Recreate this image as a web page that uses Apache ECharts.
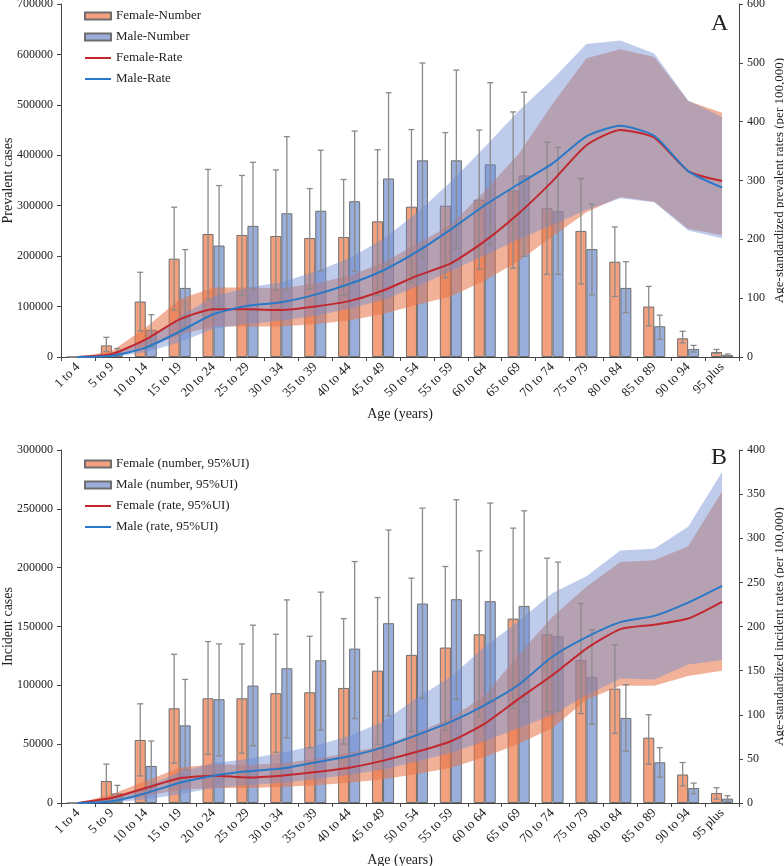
<!DOCTYPE html>
<html>
<head>
<meta charset="utf-8">
<script src="https://cdn.jsdelivr.net/npm/echarts@6/dist/echarts.min.js"></script>
<style>
  html, body { margin: 0; padding: 0; background: #fff; }
  #chart { width: 784px; height: 866px; }
</style>
</head>
<body>
<div id="chart"></div>
<script>
// age groups
var ageGroups = ['1 to 4', '5 to 9', '10 to 14', '15 to 19', '20 to 24', '25 to 29', '30 to 34', '35 to 39',
  '40 to 44', '45 to 49', '50 to 54', '55 to 59', '60 to 64', '65 to 69', '70 to 74', '75 to 79',
  '80 to 84', '85 to 89', '90 to 94', '95 plus'];

// panel A - prevalence
var prevFemaleNum = [0, 23000, 110000, 195000, 244000, 242000, 240000, 236000, 238000, 269000, 298000, 300000, 312000, 330000, 295000, 250000, 189000, 100000, 37000, 10000];
var prevFemaleNumHi = [0, 39000, 168000, 297000, 372000, 360000, 371000, 334000, 352000, 411000, 451000, 445000, 450000, 486000, 426000, 354000, 258000, 140000, 51000, 15000];
var prevFemaleNumLo = [0, 11000, 52000, 93000, 114000, 122000, 133000, 135000, 122000, 122000, 148000, 157000, 174000, 176000, 164000, 145000, 120000, 62000, 28000, 7000];
var prevMaleNum = [0, 9000, 54000, 137000, 221000, 260000, 285000, 290000, 309000, 354000, 390000, 390000, 382000, 360000, 289000, 214000, 137000, 61000, 16000, 4000];
var prevMaleNumHi = [0, 17000, 84000, 213000, 340000, 386000, 437000, 410000, 448000, 524000, 583000, 569000, 544000, 525000, 416000, 303000, 189000, 83000, 23000, 6000];
var prevMaleNumLo = [0, 3000, 20000, 60000, 100000, 134000, 133000, 171000, 170000, 183000, 197000, 215000, 223000, 200000, 164000, 123000, 88000, 35000, 10000, 2000];
var prevFemaleRate = [0, 5, 30, 64, 81, 81, 80, 86, 95, 113, 138, 159, 197, 244, 299, 360, 386, 373, 316, 299];
var prevFemaleRateHi = [0, 10, 50, 98, 118, 118, 117, 125, 138, 160, 192, 225, 282, 345, 430, 508, 523, 510, 435, 415];
var prevFemaleRateLo = [0, 2, 15, 38, 52, 52, 52, 56, 62, 73, 89, 103, 130, 163, 205, 246, 272, 264, 218, 207];
var prevMaleRate = [0, 2, 16, 43, 73, 87, 93, 106, 124, 147, 179, 217, 258, 294, 329, 375, 393, 376, 316, 288];
var prevMaleRateHi = [0, 6, 30, 68, 103, 118, 127, 145, 168, 200, 245, 298, 357, 418, 472, 532, 538, 516, 436, 408];
var prevMaleRateLo = [0, 0, 8, 25, 48, 56, 62, 70, 82, 97, 120, 146, 173, 200, 225, 250, 270, 263, 215, 202];

// panel B - incidence
var incFemaleNum = [0, 18700, 53600, 80500, 89000, 89000, 93300, 94100, 97800, 112500, 125900, 132100, 143400, 156700, 143400, 121600, 97200, 55500, 24200, 8400];
var incFemaleNumHi = [0, 33000, 84300, 126400, 137200, 135200, 143400, 141700, 156700, 174600, 191100, 201000, 214300, 233600, 208100, 169500, 134600, 75000, 34400, 13000];
var incFemaleNumLo = [0, 2500, 23000, 33800, 41400, 42300, 43100, 47000, 50100, 49900, 60800, 62000, 73000, 80500, 77600, 76000, 59200, 33000, 14600, 3400];
var incMaleNum = [0, 8200, 31500, 66000, 88200, 99800, 114500, 121300, 131200, 152800, 169500, 173200, 171500, 167500, 141700, 106900, 72300, 34600, 12700, 3700];
var incMaleNumHi = [0, 15000, 52700, 105000, 135200, 151100, 172600, 179200, 205200, 232000, 250600, 257700, 254900, 248300, 204700, 147100, 100600, 47000, 16900, 6200];
var incMaleNumLo = [0, 1000, 9900, 28200, 40000, 48700, 55500, 62000, 71800, 74100, 89000, 88200, 86100, 85600, 78200, 67000, 44000, 22000, 7900, 1400];
var incFemaleRate = [0, 6, 17, 28, 31, 29, 31, 35, 40, 48, 58, 70, 90, 118, 145, 175, 197, 202, 209, 228];
var incFemaleRateHi = [0, 10, 25, 40, 44, 43, 45, 50, 57, 65, 80, 96, 122, 168, 211, 245, 273, 275, 291, 353];
var incFemaleRateLo = [0, 2, 8, 15, 17, 17, 18, 20, 23, 27, 33, 40, 52, 67, 85, 117, 133, 133, 144, 150];
var incMaleRate = [0, 2, 11, 23, 31, 36, 39, 46, 53, 63, 77, 92, 111, 134, 166, 188, 205, 212, 227, 246];
var incMaleRateHi = [0, 5, 18, 35, 45, 50, 57, 65, 76, 92, 119, 143, 177, 206, 238, 257, 286, 288, 313, 375];
var incMaleRateLo = [0, 0.5, 4, 10, 17, 20, 23, 27, 32, 38, 47, 57, 70, 85, 100, 122, 141, 140, 157, 162];

var FONT = 'Liberation Serif';
var femaleBar = '#F3A07F', maleBar = '#9AAEDC';
var femaleLine = '#C1272D', maleLine = '#2A79C6';
var femaleBand = 'rgba(230,115,70,0.55)', maleBand = 'rgba(110,140,210,0.45)';
var BAR_W = 0.325;
var LINE_ICON = 'path://M0,0H26V2H0Z';

function errRender(side) {
  return function (params, api) {
    var i = api.value(0);
    var hi = api.coord([i, api.value(1)]);
    var lo = api.coord([i, api.value(2)]);
    var bw = api.size([1, 0])[0];
    var x = hi[0] + side * bw * BAR_W / 2;
    var st = { stroke: '#8a8a8a', lineWidth: 1.3 };
    return {
      type: 'group',
      children: [
        { type: 'line', shape: { x1: x, y1: hi[1], x2: x, y2: lo[1] }, style: st },
        { type: 'line', shape: { x1: x - 3, y1: hi[1], x2: x + 3, y2: hi[1] }, style: st },
        { type: 'line', shape: { x1: x - 3, y1: lo[1], x2: x + 3, y2: lo[1] }, style: st }
      ]
    };
  };
}

function zip3(hi, lo) {
  return hi.map(function (v, i) { return [i, v, lo[i]]; });
}
function diff(hi, lo) {
  return hi.map(function (v, i) { return v - lo[i]; });
}

function panelSeries(g, names, d) {
  var xa = g, yl = g * 2, yr = g * 2 + 1;
  return [
    { name: names[0], type: 'bar', xAxisIndex: xa, yAxisIndex: yl, data: d.fNum, barWidth: (BAR_W * 100) + '%', barGap: '0%',
      itemStyle: { color: femaleBar, borderColor: '#6e6e6e', borderWidth: 1 }, z: 2 },
    { name: names[1], type: 'bar', xAxisIndex: xa, yAxisIndex: yl, data: d.mNum, barWidth: (BAR_W * 100) + '%', barGap: '0%',
      itemStyle: { color: maleBar, borderColor: '#6e6e6e', borderWidth: 1 }, z: 2 },
    { type: 'line', xAxisIndex: xa, yAxisIndex: yr, data: d.fRateLo, stack: 'f' + g, symbol: 'none', silent: true,
      lineStyle: { opacity: 0 }, z: 3 },
    { type: 'line', xAxisIndex: xa, yAxisIndex: yr, data: diff(d.fRateHi, d.fRateLo), stack: 'f' + g, symbol: 'none', silent: true,
      lineStyle: { opacity: 0 }, areaStyle: { color: femaleBand, opacity: 1 }, z: 3 },
    { type: 'line', xAxisIndex: xa, yAxisIndex: yr, data: d.mRateLo, stack: 'm' + g, symbol: 'none', silent: true,
      lineStyle: { opacity: 0 }, z: 3 },
    { type: 'line', xAxisIndex: xa, yAxisIndex: yr, data: diff(d.mRateHi, d.mRateLo), stack: 'm' + g, symbol: 'none', silent: true,
      lineStyle: { opacity: 0 }, areaStyle: { color: maleBand, opacity: 1 }, z: 3 },
    { type: 'custom', xAxisIndex: xa, yAxisIndex: yl, data: zip3(d.fNumHi, d.fNumLo), renderItem: errRender(-1),
      encode: { x: 0, y: [1, 2] }, silent: true, z: 4 },
    { type: 'custom', xAxisIndex: xa, yAxisIndex: yl, data: zip3(d.mNumHi, d.mNumLo), renderItem: errRender(1),
      encode: { x: 0, y: [1, 2] }, silent: true, z: 4 },
    { name: names[2], type: 'line', xAxisIndex: xa, yAxisIndex: yr, data: d.fRate, symbol: 'none', smooth: 0.2,
      lineStyle: { color: femaleLine, width: 2 }, itemStyle: { color: femaleLine }, z: 5 },
    { name: names[3], type: 'line', xAxisIndex: xa, yAxisIndex: yr, data: d.mRate, symbol: 'none', smooth: 0.2,
      lineStyle: { color: maleLine, width: 2 }, itemStyle: { color: maleLine }, z: 5 }
  ];
}

var namesA = ['Female-Number', 'Male-Number', 'Female-Rate', 'Male-Rate'];
var namesB = ['Female (number, 95%UI)', 'Male (number, 95%UI)', 'Female (rate, 95%UI)', 'Male (rate, 95%UI)'];

var dataA = { fNum: prevFemaleNum, fNumHi: prevFemaleNumHi, fNumLo: prevFemaleNumLo,
  mNum: prevMaleNum, mNumHi: prevMaleNumHi, mNumLo: prevMaleNumLo,
  fRate: prevFemaleRate, fRateHi: prevFemaleRateHi, fRateLo: prevFemaleRateLo,
  mRate: prevMaleRate, mRateHi: prevMaleRateHi, mRateLo: prevMaleRateLo };
var dataB = { fNum: incFemaleNum, fNumHi: incFemaleNumHi, fNumLo: incFemaleNumLo,
  mNum: incMaleNum, mNumHi: incMaleNumHi, mNumLo: incMaleNumLo,
  fRate: incFemaleRate, fRateHi: incFemaleRateHi, fRateLo: incFemaleRateLo,
  mRate: incMaleRate, mRateHi: incMaleRateHi, mRateLo: incMaleRateLo };

var axisLine = { show: true, lineStyle: { color: '#444', width: 1 } };
var tickLbl = { color: '#222', fontFamily: FONT, fontSize: 12 };

function xAxis(g) {
  return {
    type: 'category', gridIndex: g, data: ageGroups, boundaryGap: true,
    name: 'Age (years)', nameLocation: 'middle', nameGap: 50, nameMoveOverlap: false,
    nameTextStyle: { color: '#222', fontFamily: FONT, fontSize: 14 },
    axisLine: axisLine, axisTick: { show: true, length: 4, lineStyle: { color: '#444' } },
    axisLabel: { rotate: 45, margin: 8, interval: 0, color: '#222', fontFamily: FONT, fontSize: 13 }
  };
}
function yAxis(g, pos, max, interval, name, gap) {
  return {
    type: 'value', gridIndex: g, position: pos, min: 0, max: max, interval: interval,
    name: name, nameLocation: 'middle', nameRotate: 90, nameGap: gap, nameMoveOverlap: false,
    nameTextStyle: { color: '#222', fontFamily: FONT, fontSize: pos === 'left' ? 14 : 13 },
    axisLine: axisLine, axisTick: { show: true, length: 4, lineStyle: { color: '#444' } },
    splitLine: { show: false },
    axisLabel: Object.assign({ margin: 8, formatter: function (v) { return String(v); } }, tickLbl)
  };
}
function legend(top, names) {
  return {
    orient: 'vertical', left: 79, top: top, itemWidth: 26, itemHeight: 7, itemGap: 7,
    textStyle: { color: '#222', fontFamily: FONT, fontSize: 13, lineHeight: 14 },
    data: [
      { name: names[0], icon: 'rect' },
      { name: names[1], icon: 'rect' },
      { name: names[2], icon: LINE_ICON },
      { name: names[3], icon: LINE_ICON }
    ]
  };
}

var chart = echarts.init(document.getElementById('chart'));
chart.setOption({
  animation: false,
  backgroundColor: '#fff',
  title: [
    { text: 'A', left: 706, top: 7, textStyle: { fontFamily: FONT, fontSize: 24, fontWeight: 'normal', color: '#222' } },
    { text: 'B', left: 706, top: 441, textStyle: { fontFamily: FONT, fontSize: 24, fontWeight: 'normal', color: '#222' } }
  ],
  legend: [legend(4, namesA), legend(452, namesB)],
  grid: [
    { left: 61, right: 45, top: 4, height: 353, outerBoundsMode: 'none' },
    { left: 61, right: 45, top: 450, height: 353, outerBoundsMode: 'none' }
  ],
  xAxis: [xAxis(0), xAxis(1)],
  yAxis: [
    yAxis(0, 'left', 700000, 100000, 'Prevalent cases', 46),
    yAxis(0, 'right', 600, 100, 'Age-standardized prevalent rates (per 100,000)', 34),
    yAxis(1, 'left', 300000, 50000, 'Incident cases', 46),
    yAxis(1, 'right', 400, 50, 'Age-standardized incident rates (per 100,000)', 34)
  ],
  series: panelSeries(0, namesA, dataA).concat(panelSeries(1, namesB, dataB))
});
</script>
</body>
</html>
